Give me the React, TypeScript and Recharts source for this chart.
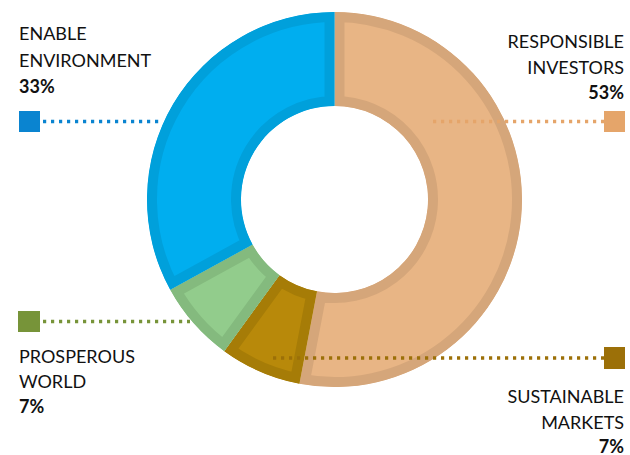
import React from "react";
import { PieChart, Pie, Sector } from "recharts";

// ---- data ----
const categories = ["RESPONSIBLE INVESTORS", "SUSTAINABLE MARKETS", "PROSPEROUS WORLD", "ENABLE ENVIRONMENT"];
const labelLines = [["RESPONSIBLE", "INVESTORS"], ["SUSTAINABLE", "MARKETS"], ["PROSPEROUS", "WORLD"], ["ENABLE", "ENVIRONMENT"]];
const shares = [53, 7, 7, 33];

// ---- styles ----
const fills = ["#E8B585", "#B8890A", "#92CC8C", "#00AEEF"];
const borders = ["#D5A67A", "#A67C07", "#84BA7E", "#00A0DB"];
const markerColors = ["#E5A56A", "#9C7008", "#779439", "#0A84D0"];

const data = categories.map((name, i) => ({ name, value: shares[i], fill: fills[i], border: borders[i] }));

// legend layout (positions of annotation blocks)
const layout = [
  { anchor: "end", tx: 624, baselines: [48, 74, 99], sq: [604, 111, 21, 21], line: [433, 604, 121.5] },
  { anchor: "end", tx: 624, baselines: [403, 429, 453], sq: [604, 347, 21, 22], line: [273, 604, 358] },
  { anchor: "start", tx: 19, baselines: [363, 388, 413], sq: [18, 311, 22, 21], line: [43, 190, 321.5] },
  { anchor: "start", tx: 19, baselines: [40, 66.5, 92.5], sq: [19, 111, 21, 21], line: [43, 162, 121.5] },
];

const FONT = "Lato, 'Open Sans', sans-serif";

const InsetSector = (props: any) => {
  const { cx, cy, innerRadius, outerRadius, startAngle, endAngle, payload, name } = props;
  const key = String((payload && payload.name) || name || "s").replace(/[^A-Za-z]/g, "");
  const id = `clip-${key}`;
  const geom = { cx, cy, innerRadius, outerRadius, startAngle, endAngle };
  const fill = (payload && payload.fill) || props.fill;
  const border = (payload && payload.border) || props.border;
  return (
    <g>
      <defs>
        <clipPath id={id}>
          <Sector {...geom} />
        </clipPath>
      </defs>
      <Sector {...geom} fill={fill} stroke={border} strokeWidth={20} clipPath={`url(#${id})`} />
    </g>
  );
};

const Annotations = () => (
  <svg
    width={630}
    height={455}
    style={{ position: "absolute", left: 0, top: 0, pointerEvents: "none" }}
  >
    {layout.map((l, i) => (
      <g key={i}>
        <line
          x1={l.line[0]}
          x2={l.line[1]}
          y1={l.line[2]}
          y2={l.line[2]}
          stroke={markerColors[i]}
          strokeWidth={3.5}
          strokeDasharray="3.2 4.8"
        />
        <rect x={l.sq[0]} y={l.sq[1]} width={l.sq[2]} height={l.sq[3]} fill={markerColors[i]} />
        {labelLines[i].map((t, j) => (
          <text
            key={j}
            x={l.tx}
            y={l.baselines[j]}
            textAnchor={l.anchor as any}
            fontFamily={FONT}
            fontSize={18}
            fill="#111"
          >
            {t}
          </text>
        ))}
        <text
          x={l.tx}
          y={l.baselines[2]}
          textAnchor={l.anchor as any}
          fontFamily={FONT}
          fontSize={18}
          fontWeight="bold"
          fill="#111"
        >
          {`${shares[i]}%`}
        </text>
      </g>
    ))}
  </svg>
);

export default function App() {
  return (
    <div style={{ position: "absolute", left: 0, top: 0, width: 630, height: 455, background: "#fff" }}>
      <PieChart width={630} height={455} margin={{ top: 0, right: 0, bottom: 0, left: 0 }}>
        <Pie
          data={data}
          dataKey="value"
          nameKey="name"
          cx={334.5}
          cy={199.5}
          innerRadius={93.5}
          outerRadius={187.5}
          startAngle={90}
          endAngle={-270}
          stroke="none"
          shape={InsetSector}
          isAnimationActive={false}
        />
      </PieChart>
      <Annotations />
    </div>
  );
}
